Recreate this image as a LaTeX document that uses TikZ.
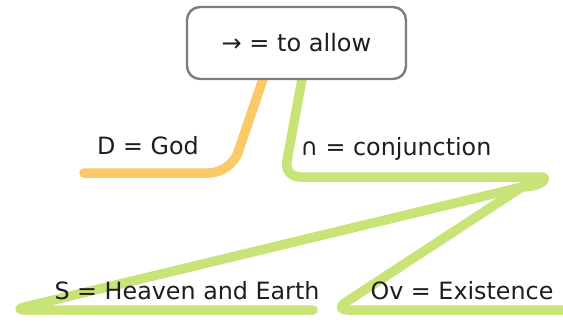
\documentclass[tikz,border=0pt]{standalone}
\usepackage{fontspec}
\setmainfont{DejaVu Sans}
\definecolor{gline}{RGB}{200,228,120}
\definecolor{oline}{RGB}{250,202,104}
\definecolor{boxgray}{RGB}{125,125,125}
\definecolor{txt}{RGB}{30,30,30}
\tikzset{
  rootbox/.style={draw=boxgray, line width=2.4pt, rounded corners=13pt, fill=white,
    minimum width=219pt, minimum height=72pt, inner sep=0pt, text=txt,
    font=\fontsize{24}{28}\selectfont},
  lbl/.style={inner sep=0pt, text=txt, font=\fontsize{23.8}{28}\selectfont},
  gbranch/.style={draw=gline, line width=9.5pt, line cap=round, line join=round},
  obranch/.style={draw=oline, line width=9.5pt, line cap=round, line join=round},
}
\begin{document}
\begin{tikzpicture}[x=1pt,y=-1pt]
\useasboundingbox (0,0) rectangle (563,324);
\coordinate (oStart) at (263,79);
\coordinate (gStart) at (302,79);
\coordinate (godEnd) at (84,173);
\coordinate (tip) at (522,187);
\coordinate (seEnd) at (313,310);
\coordinate (ovEnd) at (575,310);

\draw[obranch, rounded corners=22pt] (oStart) -- (231,173) -- (godEnd);
\draw[gbranch, rounded corners=16pt] (gStart) -- (284,177) -- (527,177)
  .. controls (546,177) and (546,186) .. (tip);
\draw[gbranch, rounded corners=14pt] (tip) -- (12,310) -- (seEnd);
\draw[gbranch, rounded corners=14pt] (tip) -- (334,310) -- (ovEnd);

\node[rootbox] (root) at (296.5,43) {→ = to allow};
\node[lbl] (god) at (148,146) {D = God};
\node[lbl] (conj) at (396,149) {∩ = conjunction};
\node[lbl] (se) at (187,291) {S = Heaven and Earth};
\node[lbl] (ov) at (462,291) {Ov = Existence};
\end{tikzpicture}
\end{document}
